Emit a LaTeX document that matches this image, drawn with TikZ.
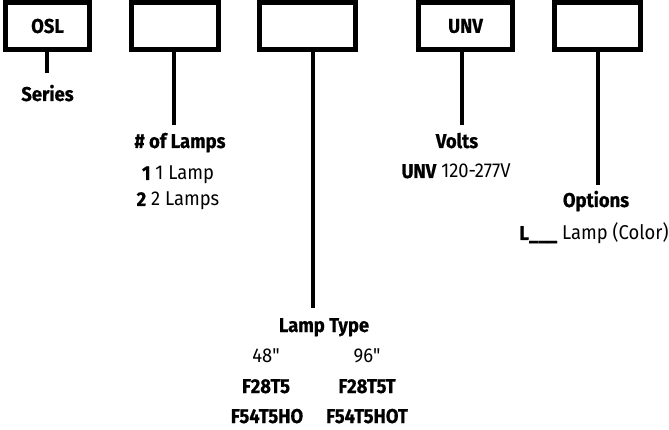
\documentclass[tikz,border=0pt]{standalone}
\usepackage{fontspec}
\setmainfont[FakeStretch=0.92, BoldFeatures={FakeBold=0.6}]{Fira Sans}
\newfontfamily\plainquote[FakeStretch=0.92, Ligatures=TeXOff]{Fira Sans}
\begin{document}
\begin{tikzpicture}[x=1pt,y=-1pt,
  codebox/.style={draw=black, line width=5pt, fill=white, inner sep=0pt, minimum height=47pt, font=\fontsize{20}{20}\selectfont\bfseries},
  conn/.style={draw=black, line width=3.5pt},
  lbl/.style={anchor=base, inner sep=0pt, font=\fontsize{20}{20}\selectfont},
  hd/.style={lbl, font=\fontsize{20}{20}\selectfont\bfseries}]
\useasboundingbox (0,0) rectangle (669,430);
% boxes
\node[codebox, minimum width=84pt] (b1) at (47.5,26) {OSL};
\node[codebox, minimum width=87pt] (b2) at (175,26) {};
\node[codebox, minimum width=96pt] (b3) at (307.5,26) {};
\node[codebox, minimum width=94pt] (b4) at (465.5,26) {UNV};
\node[codebox, minimum width=86pt] (b5) at (597.5,26) {};
% line ends
\coordinate (e1) at (47,73);
\coordinate (e2) at (174,125);
\coordinate (e3) at (313,308);
\coordinate (e4) at (462,125);
\coordinate (e5) at (598,185);
\draw[conn] (b1.south -| e1) -- (e1);
\draw[conn] (b2.south -| e2) -- (e2);
\draw[conn] (b3.south -| e3) -- (e3);
\draw[conn] (b4.south -| e4) -- (e4);
\draw[conn] (b5.south -| e5) -- (e5);
% labels
\node[hd] (series) at (47.5,101) {Series};
\node[hd] (lamps) at (180,148) {\# of Lamps};
\node[lbl] (l1) at (178,180) {\textbf{1} 1 Lamp};
\node[lbl] (l2) at (178,206) {\textbf{2} 2 Lamps};
\node[hd] (volts) at (457,148) {Volts};
\node[lbl] (unv) at (456,178) {\textbf{UNV} 120-277V};
\node[hd] (opts) at (596,207) {Options};
\node[lbl] (optl) at (594,240) {\textbf{L\_\_\_} Lamp (Color)};
\node[hd] (ltype) at (324,332) {Lamp Type};
\node[lbl] (t48) at (266,362) {48{\plainquote\symbol{34}}};
\node[lbl] (t96) at (367,362) {96{\plainquote\symbol{34}}};
\node[hd] (a1) at (266,393) {F28T5};
\node[hd] (b1t) at (367,393) {F28T5T};
\node[hd] (a2) at (267,423) {F54T5HO};
\node[hd] (b2t) at (367,423) {F54T5HOT};
\end{tikzpicture}
\end{document}
